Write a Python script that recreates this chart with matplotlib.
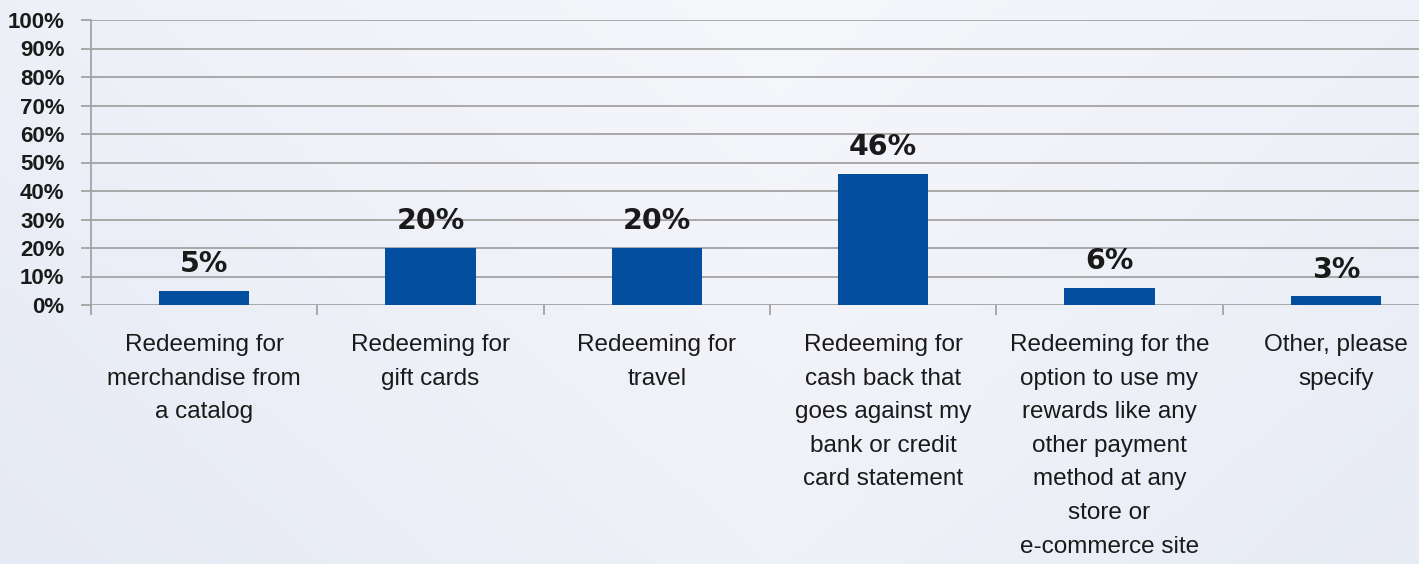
import numpy as np
import matplotlib.pyplot as plt
from matplotlib.colors import LinearSegmentedColormap

categories = [
    "Redeeming for\nmerchandise from\na catalog",
    "Redeeming for\ngift cards",
    "Redeeming for\ntravel",
    "Redeeming for\ncash back that\ngoes against my\nbank or credit\ncard statement",
    "Redeeming for the\noption to use my\nrewards like any\nother payment\nmethod at any\nstore or\ne-commerce site",
    "Other, please\nspecify",
]
values = [5, 20, 20, 46, 6, 3]
yticks = list(range(0, 101, 10))

narrow = ['Liberation Sans Narrow', 'Liberation Sans', 'DejaVu Sans']

fig = plt.figure(figsize=(14.19, 5.64), dpi=100)

# soft background gradient
bg = fig.add_axes([0, 0, 1, 1])
xx, yy = np.meshgrid(np.linspace(0, 1, 300), np.linspace(0, 1, 120))
grad = 0.55 * (1 - np.abs(xx - 0.55) / 0.55) + 0.45 * yy
cmap = LinearSegmentedColormap.from_list('bg', ['#e6eaf4', '#f6f7fb'])
bg.imshow(grad, cmap=cmap, aspect='auto', extent=[0, 1, 0, 1], origin='lower')
bg.axis('off')

ax = fig.add_axes([91 / 1419, 259 / 564, 1358 / 1419, 285 / 564])
ax.set_facecolor('none')

x = np.arange(len(categories))
bars = ax.bar(x, values, width=0.40, color='#044ea0', zorder=3)
for xi, v in zip(x, values):
    ax.text(xi, v + 4.5, f"{v}%", ha='center', va='bottom', fontsize=20.5,
            fontweight='heavy', color='#1a1a1a', family=['DejaVu Sans'])

ax.set_xlim(-0.5, len(categories) - 0.5)
ax.set_ylim(0, 100)
ax.set_yticks(yticks)
ax.set_yticklabels([f"{t}%" for t in yticks], fontsize=16, fontweight='bold',
                   family=narrow, color='#1a1a1a')
ax.yaxis.grid(True, color='#a3a3a3', linewidth=1.3, zorder=0)

ax.set_xticks(x)
ax.set_xticklabels(categories, fontsize=17.5, family=narrow, color='#1a1a1a',
                   linespacing=1.68)
ax.tick_params(axis='x', length=0, pad=21)
ax.set_xticks(np.arange(len(categories) + 1) - 0.5, minor=True)
ax.tick_params(axis='x', which='minor', length=7, width=1.3, color='#a3a3a3')
ax.tick_params(axis='y', length=7, width=1.3, color='#a3a3a3', pad=12)

for s in ['top', 'right', 'bottom']:
    ax.spines[s].set_visible(False)
ax.spines['left'].set_color('#a3a3a3')
ax.spines['left'].set_linewidth(1.3)
ax.spines['left'].set_bounds(0, 100)

fig.savefig('out.png', dpi=100)
